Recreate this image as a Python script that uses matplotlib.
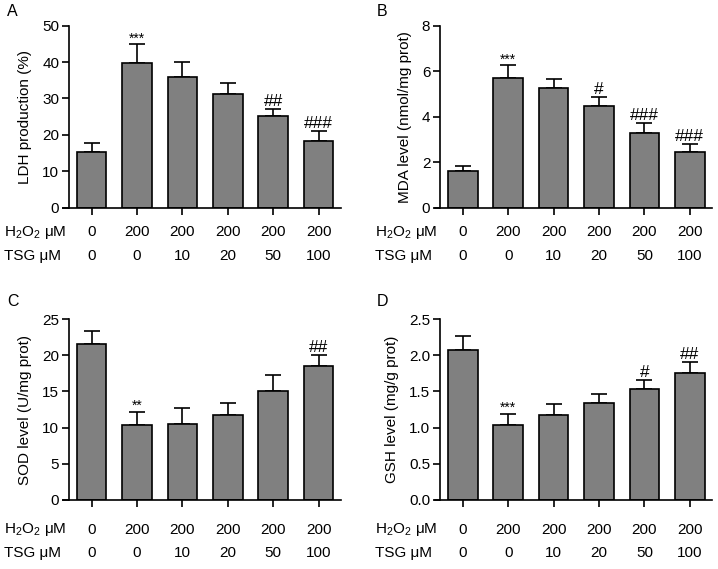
import matplotlib
matplotlib.use('Agg')
import matplotlib.pyplot as plt
import numpy as np

plt.rcParams['font.family'] = ['Liberation Sans', 'DejaVu Sans']
plt.rcParams['mathtext.fontset'] = 'custom'
plt.rcParams['mathtext.rm'] = 'Liberation Sans'
plt.rcParams['mathtext.it'] = 'Liberation Sans:italic'

# ---- data ----
h2o2 = ['0', '200', '200', '200', '200', '200']
tsg = ['0', '0', '10', '20', '50', '100']

ldh_mean = [15.4, 39.8, 35.9, 31.1, 25.3, 18.3]
ldh_err = [2.5, 5.1, 4.0, 3.1, 1.9, 2.8]
ldh_sig = ['', '***', '', '', '##', '###']

mda_mean = [1.59, 5.68, 5.24, 4.46, 3.26, 2.45]
mda_err = [0.25, 0.59, 0.40, 0.42, 0.47, 0.37]
mda_sig = ['', '***', '', '#', '###', '###']

sod_mean = [21.5, 10.4, 10.5, 11.7, 15.1, 18.5]
sod_err = [1.9, 1.8, 2.2, 1.7, 2.1, 1.6]
sod_sig = ['', '**', '', '', '', '##']

gsh_mean = [2.07, 1.03, 1.17, 1.34, 1.53, 1.76]
gsh_err = [0.19, 0.16, 0.16, 0.13, 0.13, 0.14]
gsh_sig = ['', '***', '', '', '#', '##']

W, H = 718, 569
fig = plt.figure(figsize=(W/100, H/100), dpi=100)
FS = 11


def panel(rect, mean, err, sig, ymax, ystep, ylabel, letter, letter_xy, row_y, label_x, fmt=None):
    ax = fig.add_axes(rect)
    x = np.arange(len(mean))
    ax.bar(x, mean, width=0.65, color='#808080', edgecolor='black', linewidth=1.2, zorder=2)
    ax.errorbar(x, mean, yerr=[np.zeros(len(err)), err], fmt='none', ecolor='black',
                elinewidth=1.2, capsize=6, capthick=1.2, zorder=1)
    for xi, m, e, s in zip(x, mean, err, sig):
        if s:
            if s.startswith('*'):
                ax.annotate(s, (xi, m + e), xytext=(0, -1), textcoords='offset points',
                            ha='center', va='bottom', fontsize=10)
            else:
                ax.annotate(s, (xi, m + e), xytext=(0, 0), textcoords='offset points',
                            ha='center', va='bottom', fontsize=12.5)
    ax.set_xlim(-0.62, 5.5)
    ax.set_ylim(0, ymax)
    ax.spines['left'].set_position(('data', -0.5))
    ax.spines['top'].set_visible(False)
    ax.spines['right'].set_visible(False)
    for sp in ['left', 'bottom']:
        ax.spines[sp].set_linewidth(1.2)
    ax.set_xticks(x)
    ax.set_xticklabels([])
    ticks = np.arange(0, ymax + ystep / 2, ystep)
    ax.set_yticks(ticks)
    if fmt:
        ax.set_yticklabels([fmt % v for v in ticks])
    ax.tick_params(direction='out', length=5, width=1.2, labelsize=FS, pad=2)
    ax.set_ylabel(ylabel, fontsize=FS, labelpad=7)
    for xi, a, b in zip(x, h2o2, tsg):
        ax.annotate(a, (xi, 0), xycoords=('data', 'axes fraction'), xytext=(0, -row_y[0]),
                    textcoords='offset points', ha='center', va='center', fontsize=FS)
        ax.annotate(b, (xi, 0), xycoords=('data', 'axes fraction'), xytext=(0, -row_y[1]),
                    textcoords='offset points', ha='center', va='center', fontsize=FS)
    bottom_px = (1 - rect[1]) * H
    fig.text(label_x / W, 1 - (bottom_px + row_y[0] / 0.72) / H, 'H$_2$O$_2$ \u03bcM',
             ha='left', va='center', fontsize=FS)
    fig.text(label_x / W, 1 - (bottom_px + row_y[1] / 0.72) / H, 'TSG \u03bcM',
             ha='left', va='center', fontsize=FS)
    fig.text(letter_xy[0] / W, 1 - letter_xy[1] / H, letter, ha='left', va='center', fontsize=11.5)
    return ax


panel([0.0884, 0.635, 0.387, 0.320], ldh_mean, ldh_err, ldh_sig, 50, 10,
      'LDH production (%)', 'A', (7, 12), (17.7, 35.0), 4)
panel([0.6053, 0.635, 0.387, 0.320], mda_mean, mda_err, mda_sig, 8, 2,
      'MDA level (nmol/mg prot)', 'B', (377, 12), (17.7, 35.0), 375)
panel([0.0884, 0.1213, 0.387, 0.318], sod_mean, sod_err, sod_sig, 25, 5,
      'SOD level (U/mg prot)', 'C', (7, 301), (21.6, 38.2), 4)
panel([0.6053, 0.1213, 0.387, 0.318], gsh_mean, gsh_err, gsh_sig, 2.5, 0.5,
      'GSH level (mg/g prot)', 'D', (377, 301), (21.6, 38.2), 375, fmt='%.1f')

plt.savefig('out.png', dpi=100)
plt.close()
